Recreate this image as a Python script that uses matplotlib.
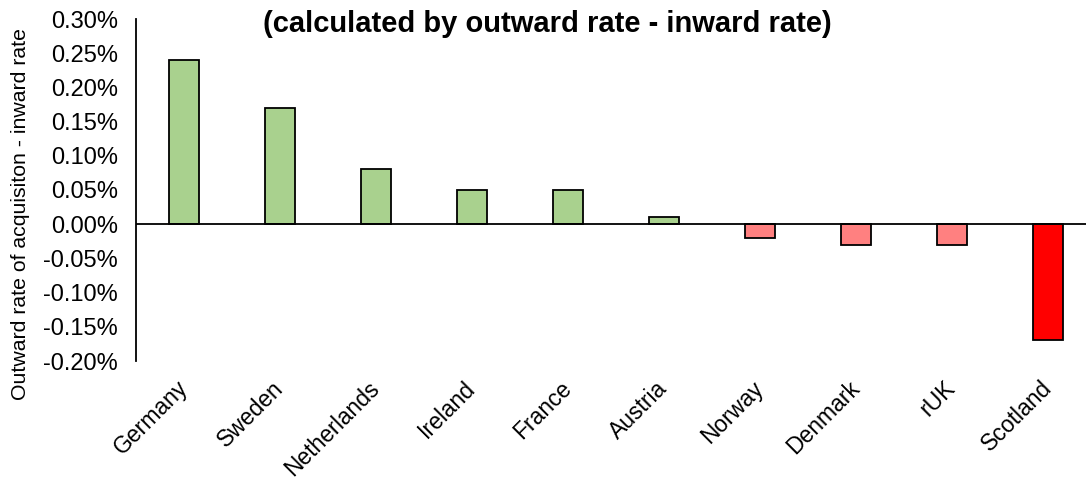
import matplotlib.pyplot as plt
from matplotlib.ticker import PercentFormatter

plt.rcParams['font.family'] = ['Liberation Sans', 'DejaVu Sans']
plt.rcParams['axes.unicode_minus'] = False

countries = ['Germany', 'Sweden', 'Netherlands', 'Ireland', 'France',
             'Austria', 'Norway', 'Denmark', 'rUK', 'Scotland']
net_rate = [0.24, 0.17, 0.08, 0.05, 0.05, 0.01, -0.02, -0.03, -0.03, -0.17]
bar_colors = ['#A9D18E'] * 6 + ['#FF8080'] * 3 + ['#FF0000']

fig = plt.figure(figsize=(10.86, 4.8), dpi=100)
ax = fig.add_axes([136 / 1086, 119 / 480, 960 / 1086, 342 / 480])

x = range(len(countries))
ax.bar(x, net_rate, width=0.32, color=bar_colors, edgecolor='black',
       linewidth=1.3, zorder=2)
ax.axhline(0, color='black', linewidth=1.3, zorder=3)

ax.set_xlim(-0.5, len(countries) - 0.5)
ax.set_ylim(-0.20, 0.30)
ax.set_yticks([i * 0.05 for i in range(-4, 7)])
ax.yaxis.set_major_formatter(PercentFormatter(decimals=2))
ax.tick_params(axis='y', length=0, labelsize=17, pad=13)
ax.tick_params(axis='x', length=0, labelsize=16.5, pad=17)
ax.set_xticks(list(x))
ax.set_xticklabels(countries, rotation=45, ha='right', va='center',
                   rotation_mode='anchor')

for side in ['top', 'right', 'bottom']:
    ax.spines[side].set_visible(False)
ax.spines['left'].set_linewidth(1.3)

ax.set_ylabel('Outward rate of acquisiton - inward rate', fontsize=15.3)
ax.yaxis.set_label_coords(-106 / 960, 0.43)
fig.text(547 / 1086, 1 - 24 / 480, '(calculated by outward rate - inward rate)',
         ha='center', va='center', fontsize=21, fontweight='bold')

fig.savefig('out.png', dpi=100)
